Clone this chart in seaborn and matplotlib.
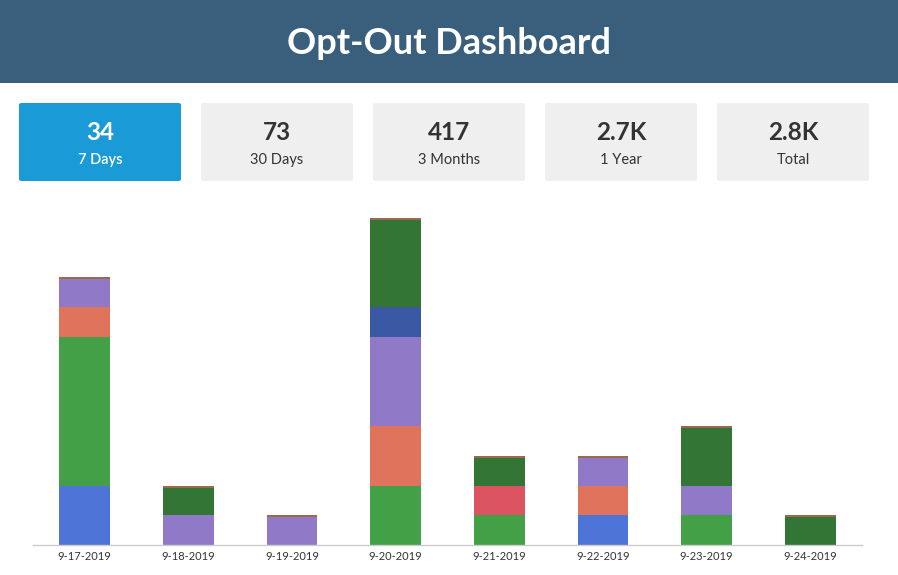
# Opt-Out Dashboard - stacked daily opt-outs with KPI cards
import matplotlib
matplotlib.use('Agg')
import seaborn as sns
import matplotlib.pyplot as plt
from matplotlib.patches import Rectangle, FancyBboxPatch

# Data
dates = ['9-17-2019', '9-18-2019', '9-19-2019', '9-20-2019',
         '9-21-2019', '9-22-2019', '9-23-2019', '9-24-2019']
blue = [2, 0, 0, 0, 0, 1, 0, 0]
green = [5, 0, 0, 2, 1, 0, 1, 0]
red = [0, 0, 0, 0, 1, 0, 0, 0]
orange = [1, 0, 0, 2, 0, 1, 0, 0]
purple = [1, 1, 1, 3, 0, 1, 1, 0]
dark_blue = [0, 0, 0, 1, 0, 0, 0, 0]
dark_green = [0, 1, 0, 3, 1, 0, 2, 1]

kpi_values = ['34', '73', '417', '2.7K', '2.8K']
kpi_labels = ['7 Days', '30 Days', '3 Months', '1 Year', 'Total']

series = [blue, green, red, orange, purple, dark_blue, dark_green]
colors = ['#4f74d8', '#43a047', '#dc5362', '#e0735c', '#9079c6', '#3b58a5', '#327535']

sns.set_style('white')
plt.rcParams['font.family'] = ['Lato', 'DejaVu Sans']

W, H = 898, 575
fig = plt.figure(figsize=(W / 100, H / 100), dpi=100)

# Header band
fig.patches.append(Rectangle((0, 1 - 83 / H), 1, 83 / H, transform=fig.transFigure,
                             facecolor='#3a5f7d', edgecolor='none', zorder=0))
fig.text(0.5, 1 - 43 / H, 'Opt-Out Dashboard', color='white', fontsize=26,
         fontweight='bold', ha='center', va='center')

# KPI cards
card_x = [19, 201, 373, 545, 717]
card_w = [162, 152, 152, 152, 152]
for i in range(len(kpi_values)):
    active = i == 0
    fc = '#1a9ad6' if active else '#efefef'
    tc = 'white' if active else '#333333'
    fig.patches.append(FancyBboxPatch((card_x[i] / W, 1 - 181 / H), card_w[i] / W, 78 / H,
                                      boxstyle='round,pad=0,rounding_size=0.003',
                                      transform=fig.transFigure, facecolor=fc,
                                      edgecolor='none'))
    cx = (card_x[i] + card_w[i] / 2) / W
    fig.text(cx, 1 - 133 / H, kpi_values[i], color=tc, fontsize=17.5,
             fontweight='bold', ha='center', va='center')
    fig.text(cx, 1 - 160 / H, kpi_labels[i], color=tc, fontsize=10.5,
             fontweight='semibold' if active else 'normal', ha='center', va='center')

# Stacked bar chart
ax = fig.add_axes([33 / W, 30 / H, 829 / W, 345 / H])
bottom = [0] * len(dates)
for vals, col in zip(series, colors):
    sns.barplot(x=dates, y=vals, bottom=bottom, color=col, width=0.49,
                linewidth=0, ax=ax, saturation=1)
    bottom = [b + v for b, v in zip(bottom, vals)]

# thin brown cap on top of each stack
cap = 0.07
sns.barplot(x=dates, y=[cap] * len(dates), bottom=[b - cap for b in bottom],
            color='#9c6a4a', width=0.49, linewidth=0, ax=ax, saturation=1)

ax.set_xlim(-0.5, len(dates) - 0.5)
ax.set_ylim(0, 11.6)
ax.set_yticks([])
ax.set_xlabel('')
ax.set_ylabel('')
for s in ['top', 'right', 'left']:
    ax.spines[s].set_visible(False)
ax.spines['bottom'].set_color('#cccccc')
ax.spines['bottom'].set_linewidth(1)
ax.tick_params(axis='x', length=0, labelsize=8, colors='#333333', pad=4)

fig.savefig('out.png', dpi=100)
